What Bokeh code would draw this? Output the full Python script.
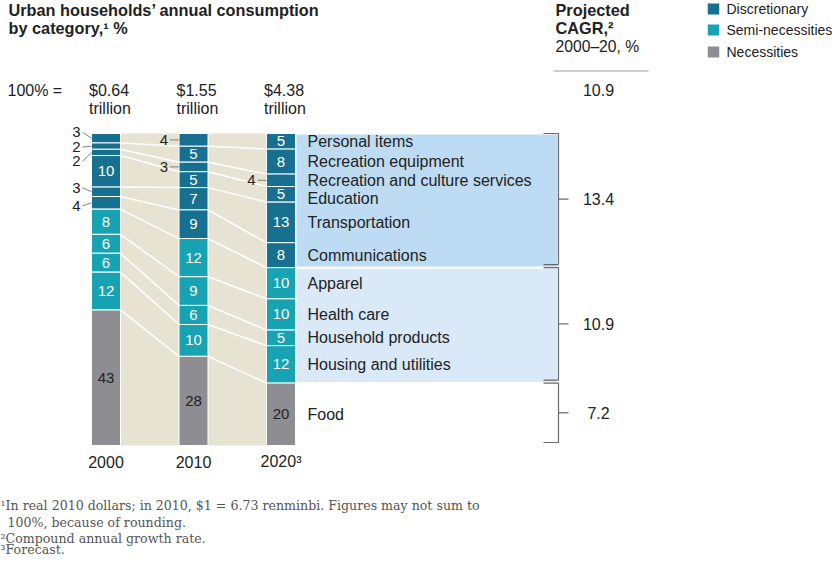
from bokeh.plotting import figure
from bokeh.models import Range1d
from bokeh.embed import file_html
from bokeh.resources import INLINE
from bokeh.core.properties import value

# ---------------- data ----------------
years = [2000, 2010, 2020]
year_labels = ["2000", "2010", "2020³"]
totals = ["$0.64", "$1.55", "$4.38"]
categories = ["Personal items", "Recreation equipment", "Recreation and culture services",
              "Education", "Transportation", "Communications", "Apparel", "Health care",
              "Household products", "Housing and utilities", "Food"]
groups = ["Discretionary"] * 6 + ["Semi-necessities"] * 4 + ["Necessities"]
share_2000 = [3, 2, 2, 10, 3, 4, 8, 6, 6, 12, 43]
share_2010 = [4, 5, 3, 5, 7, 9, 12, 9, 6, 10, 28]
share_2020 = [5, 8, 4, 5, 13, 8, 10, 10, 5, 12, 20]
group_names = ["Discretionary", "Semi-necessities", "Necessities"]
cagr_groups = [13.4, 10.9, 7.2]
cagr_total = 10.9

# ---------------- styles ----------------
COL = {"Discretionary": "#17708f", "Semi-necessities": "#17a3b2", "Necessities": "#8e8d92"}
BOX = {"Discretionary": "#bddcf3", "Semi-necessities": "#d9e9f7"}
BEIGE = "#e6e3d2"
TXT = "#222222"
FONT = value("Liberation Sans")
SERIF = value("DejaVu Serif")

W, H = 832, 557
PX_PER_YEAR = 8.75
PX_PER_PCT = 3.12
REF_X0, REF_Y0 = 105.5, 445.0   # pixel of (2000, 0%)


def X(px):
    return 2000 + (px - REF_X0) / PX_PER_YEAR


def Y(py):
    return (REF_Y0 - py) / PX_PER_PCT


def dx(px):
    return px / PX_PER_YEAR


def dy(px):
    return px / PX_PER_PCT


p = figure(width=W, height=H, output_backend="svg", toolbar_location=None,
           x_range=Range1d(X(0), X(W)), y_range=Range1d(Y(H), Y(0)),
           min_border=0)
p.axis.visible = False
p.grid.visible = False
p.outline_line_color = None
p.background_fill_color = "white"
p.border_fill_color = "white"

half_w = dx(14.5)
shares = {2000: share_2000, 2010: share_2010, 2020: share_2020}

# normalized stacking (Food at the bottom)
bounds = {}
for yr in years:
    s = shares[yr]
    tot = sum(s)
    tops, bots = [], []
    cum_top = 100.0
    for v in s:
        h = v * 100.0 / tot
        tops.append(cum_top)
        bots.append(cum_top - h)
        cum_top -= h
    bounds[yr] = (tops, bots)

# beige band between bars
p.quad(left=[2000 + half_w], right=[2020 - half_w], bottom=[0], top=[100],
       fill_color=BEIGE, line_color=None)

# blue boxes to the right of 2020
t20, b20 = bounds[2020]
for g in ["Discretionary", "Semi-necessities"]:
    idx = [i for i, gg in enumerate(groups) if gg == g]
    p.quad(left=[2020 + half_w], right=[X(558)], top=[t20[idx[0]]], bottom=[b20[idx[-1]]],
           fill_color=BOX[g], line_color="white", line_width=2)

# connecting lines
for k in range(1, len(categories)):
    for a, b in [(2000, 2010), (2010, 2020)]:
        p.line([a + half_w, b - half_w], [bounds[a][0][k], bounds[b][0][k]],
               line_color="white", line_width=1.5)

# bars
xs, tops, bots, cols = [], [], [], []
for yr in years:
    t, b = bounds[yr]
    for i in range(len(categories)):
        xs.append(yr)
        tops.append(t[i])
        bots.append(b[i])
        cols.append(COL[groups[i]])
p.vbar(x=xs, top=tops, bottom=bots, width=2 * half_w, fill_color=cols,
       line_color="white", line_width=1)

# segment labels
lab_offsets = {2000: {0: -6, 1: 1, 2: 9, 4: -4, 5: 3}}
in_x, in_y, in_t, in_c = [], [], [], []
out_x, out_y, out_t = [], [], []
for yr in years:
    t, b = bounds[yr]
    for i, v in enumerate(shares[yr]):
        c = (t[i] + b[i]) / 2
        if v >= 5:
            in_x.append(yr)
            in_y.append(c)
            in_t.append(str(v))
            in_c.append(TXT if groups[i] == "Necessities" else "white")
        else:
            off = lab_offsets.get(yr, {}).get(i, 0)
            ly = c - dy(off)
            out_x.append(yr - half_w - dx(11))
            out_y.append(ly)
            out_t.append(str(v))
            p.line([yr - half_w - dx(9), yr - half_w], [ly, c], line_color="#808080", line_width=1)
p.text(x=in_x, y=in_y, text=in_t, text_color=in_c, text_font=FONT, text_font_size="15px",
       text_align="center", text_baseline="middle")
p.text(x=out_x, y=out_y, text=out_t, text_color=TXT, text_font=FONT, text_font_size="15px",
       text_align="right", text_baseline="middle")

# category labels
label_off = {3: 4}
cx, cy = [], []
for i in range(len(categories)):
    cx.append(X(307))
    cy.append((t20[i] + b20[i]) / 2 - dy(label_off.get(i, 0)))
p.text(x=cx, y=cy, text=categories, text_color=TXT, text_font=FONT, text_font_size="16px",
       text_align="left", text_baseline="middle")

# brackets + CAGR values
bx = X(558)
for gi, g in enumerate(group_names):
    idx = [i for i, gg in enumerate(groups) if gg == g]
    top = t20[idx[0]]
    bot = b20[idx[-1]] + dy(3)
    mid = (top + bot) / 2
    p.line([X(543), bx, bx, X(543)], [top, top, bot, bot], line_color="#6a6a6a", line_width=1.2)
    p.line([bx, X(568)], [mid, mid], line_color="#6a6a6a", line_width=1.2)
    p.text(x=[X(598)], y=[mid], text=[f"{cagr_groups[gi]:.1f}"], text_color=TXT, text_font=FONT,
           text_font_size="16px", text_align="center", text_baseline="middle")

# year labels
p.text(x=years, y=[Y(461)] * 3, text=year_labels, text_color=TXT, text_font=FONT,
       text_font_size="16px", text_align="center", text_baseline="middle")

# totals row
p.text(x=[X(7)], y=[Y(90)], text=["100% ="], text_color=TXT, text_font=FONT,
       text_font_size="16px", text_align="left", text_baseline="middle")
p.text(x=[yr - dx(17) for yr in years], y=[Y(90)] * 3, text=totals, text_color=TXT,
       text_font=FONT, text_font_size="16px", text_align="left", text_baseline="middle")
p.text(x=[yr - dx(17) for yr in years], y=[Y(108)] * 3, text=["trillion"] * 3, text_color=TXT,
       text_font=FONT, text_font_size="16px", text_align="left", text_baseline="middle")
p.text(x=[X(598)], y=[Y(89)], text=[f"{cagr_total:.1f}"], text_color=TXT, text_font=FONT,
       text_font_size="16px", text_align="center", text_baseline="middle")

# title
p.text(x=[X(8)] * 2, y=[Y(9), Y(27)],
       text=["Urban households’ annual consumption", "by category,¹ %"],
       text_color=TXT, text_font=FONT, text_font_size="16.3px", text_font_style="bold",
       text_align="left", text_baseline="middle")

# CAGR header
p.text(x=[X(555)] * 2, y=[Y(9), Y(27)], text=["Projected", "CAGR,²"], text_color=TXT,
       text_font=FONT, text_font_size="16.3px", text_font_style="bold",
       text_align="left", text_baseline="middle")
p.text(x=[X(555)], y=[Y(45.5)], text=["2000–20, %"], text_color=TXT, text_font=FONT,
       text_font_size="15.7px", text_align="left", text_baseline="middle")
p.line([X(553), X(648)], [Y(70.5), Y(70.5)], line_color="#a0a0a0", line_width=1)

# legend
ly = [Y(8.5), Y(29.5), Y(51.5)]
p.rect(x=[X(713)] * 3, y=ly, width=dx(11.5), height=dy(11), fill_color=[COL[g] for g in group_names],
       line_color=None)
p.text(x=[X(726)] * 3, y=ly, text=group_names, text_color=TXT, text_font=FONT,
       text_font_size="14px", text_align="left", text_baseline="middle")

# footnotes
fn_x = [X(0), X(7), X(0), X(0)]
fn_y = [Y(505), Y(522), Y(537.5), Y(549)]
fn_t = ["¹In real 2010 dollars; in 2010, $1 = 6.73 renminbi. Figures may not sum to",
        "100%, because of rounding.",
        "²Compound annual growth rate.",
        "³Forecast."]
p.text(x=fn_x, y=fn_y, text=fn_t, text_color="#555555", text_font=SERIF,
       text_font_size="12.6px", text_align="left", text_baseline="middle")

open("out.html", "w").write(file_html(p, INLINE))
